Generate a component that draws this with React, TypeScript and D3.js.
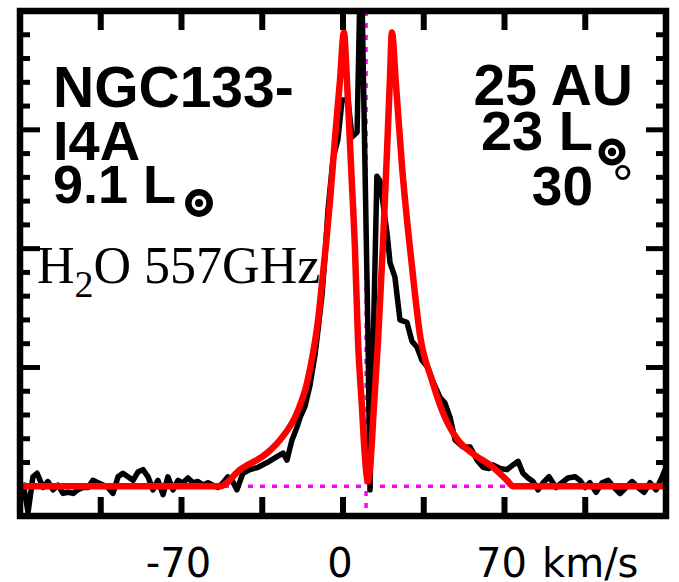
import * as d3 from "d3";

// observed H2O 557 GHz spectrum (km/s, K)
const obsVelocity = [
  -138.7, -136.5, -134.4, -132.6, -131.3, -130.0, -127.9, -125.7, -123.5, -121.4,
  -119.2, -117.0, -114.9, -112.7, -110.5, -108.4, -106.2, -104.0, -101.9, -99.7,
  -97.5, -95.4, -93.2, -91.0, -88.9, -86.7, -84.5, -82.4, -80.2, -78.0,
  -75.9, -73.7, -71.5, -69.4, -67.2, -65.0, -62.9, -60.7, -58.5, -56.4,
  -54.2, -52.0, -49.9, -48.1, -46.0, -43.4, -40.3, -36.8, -32.9, -28.6,
  -26.0, -24.3, -22.1, -19.9, -18.6, -16.5, -14.3, -12.1, -10.8, -9.1,
  -7.8, -6.5, -4.3, -2.2, -0.4, 2.2, 3.9, 6.1, 7.8, 10.8,
  11.7, 14.7, 16.0, 19.1, 20.4, 22.5, 24.7, 27.7, 29.9, 32.1,
  34.2, 36.8, 39.0, 42.0, 44.2, 46.4, 48.6, 52.0, 55.1, 58.1,
  60.7, 63.3, 65.0, 68.1, 71.1, 73.7, 75.9, 78.0, 80.2, 82.4,
  84.5, 86.7, 89.3, 92.3, 94.9, 97.5, 100.6, 102.7, 104.9, 107.0,
  109.7, 112.3, 114.9, 117.5, 120.1, 122.7, 125.3, 127.9, 130.5, 133.1,
  135.7, 138.3, 139.6,
];
const obsIntensity = [
  0.03, -0.22, 0.08, 0.11, 0.05, -0.01, 0.04, -0.03, 0.01, -0.06,
  -0.05, -0.06, -0.03, -0.01, -0.01, 0.05, 0.03, 0.01, -0.01, -0.06,
  0.08, 0.11, 0.08, 0.05, 0.12, 0.14, 0.08, -0.03, 0.05, -0.07,
  0.08, -0.03, 0.05, 0.03, 0.07, 0.03, 0.04, 0.01, 0.03, 0.01,
  -0.01, 0.03, 0.08, 0.05, -0.03, 0.11, 0.14, 0.16, 0.2, 0.25,
  0.28, 0.22, 0.39, 0.5, 0.58, 0.67, 0.85, 1.11, 1.32, 1.61,
  1.94, 2.33, 2.76, 2.92, 3.25, 3.25, 2.94, 2.98, 4.6, 1.3,
  -0.03, 2.61, 2.57, 2.13, 1.88, 1.76, 1.4, 1.38, 1.22, 1.17,
  1.06, 1.0, 0.88, 0.75, 0.7, 0.58, 0.39, 0.33, 0.33, 0.22,
  0.16, 0.15, 0.18, 0.15, 0.14, 0.18, 0.21, 0.11, 0.07, 0.04,
  -0.03, 0.03, 0.08, -0.01, 0.03, 0.07, 0.08, 0.05, -0.01, 0.03,
  -0.05, 0.03, 0.05, -0.01, -0.06, -0.01, 0.04, -0.01, -0.05, 0.03,
  -0.03, 0.08, 0.14,
];

// model fit
const modelVelocity = [
  -140, -53.3, -44.6, -32.9, -27.3, -19.9, -15.6, -13.0, -10.8, -9.1,
  -7.4, -5.6, -3.5, -1.3, 0.4, 1.7, 3.5, 5.2, 6.5, 8.2,
  9.5, 10.8, 12.1, 13.4, 15.2, 17.3, 19.1, 20.4, 21.2, 23.0,
  25.6, 29.9, 33.4, 38.6, 43.3, 49.8, 55.9, 65.0, 71.1, 73.7, 140,
];
const modelIntensity = [
  0, 0, 0.14, 0.28, 0.39, 0.62, 0.87, 1.12, 1.4, 1.71,
  2.03, 2.41, 2.92, 3.42, 3.82, 3.42, 2.69, 1.99, 1.23, 0.67,
  0.25, 0.04, 0.25, 0.67, 1.23, 2.03, 2.83, 3.46, 3.82, 3.37,
  2.69, 1.85, 1.27, 0.89, 0.62, 0.39, 0.28, 0.16, 0.05, 0, 0,
];

const vSource = 10;
const xTicks = [-105, -70, -35, 0, 35, 70, 105];
const xLabels = [-70, 0, 70];
const yTicks = [
  0.2, 0.4, 0.6, 0.8, 1, 1.2, 1.4, 1.6, 1.8, 2, 2.2, 2.4, 2.6, 2.8, 3,
  3.2, 3.4, 3.6, 3.8,
];
const yMajor = [1, 2, 3];

const W = 679;
const H = 582;
const left = 20;
const right = 666;
const top = 11;
const bottom = 516;

export default function App() {
  const x = d3.scaleLinear().domain([-140, 140]).range([left, right]);
  const y = d3.scaleLinear().domain([-0.25, 4]).range([bottom, top]);

  const obsPath = d3
    .line<number>()
    .x((_, i) => x(obsVelocity[i]))
    .y((d) => y(d))(obsIntensity);
  const modelPath = d3
    .line<number>()
    .curve(d3.curveMonotoneX)
    .x((_, i) => x(modelVelocity[i]))
    .y((d) => y(d))(modelIntensity);

  const bold = { fontFamily: "'Liberation Sans', Arial, sans-serif", fontWeight: 700 };

  return (
    <svg
      width={W}
      height={H}
      style={{ position: "absolute", left: 0, top: 0, background: "#fff" }}
    >
      <defs>
        <clipPath id="plot">
          <rect x={left} y={top} width={right - left} height={bottom - top} />
        </clipPath>
      </defs>

      <g clipPath="url(#plot)">
        <line
          x1={left}
          x2={right}
          y1={y(0)}
          y2={y(0)}
          stroke="#ff00ff"
          strokeWidth={3.5}
          strokeDasharray="5 7"
        />
        <line
          x1={x(vSource)}
          x2={x(vSource)}
          y1={top}
          y2={bottom}
          stroke="#ff00ff"
          strokeWidth={3.5}
          strokeDasharray="5 7"
        />
        <path
          d={obsPath ?? ""}
          fill="none"
          stroke="#000"
          strokeWidth={5.5}
          strokeLinejoin="round"
        />
        <path
          d={modelPath ?? ""}
          fill="none"
          stroke="#ff0000"
          strokeWidth={6.5}
          strokeLinejoin="round"
        />
      </g>

      {/* ticks */}
      {xTicks.map((t) => (
        <g key={"xt" + t} stroke="#000" strokeWidth={6}>
          <line x1={x(t)} x2={x(t)} y1={top} y2={top + 19} />
          <line x1={x(t)} x2={x(t)} y1={bottom} y2={bottom - 19} />
        </g>
      ))}
      {yTicks.map((t) => {
        const len = yMajor.includes(t) ? 20 : 10;
        return (
          <g key={"yt" + t} stroke="#000" strokeWidth={5}>
            <line x1={left} x2={left + len} y1={y(t)} y2={y(t)} />
            <line x1={right} x2={right - len} y1={y(t)} y2={y(t)} />
          </g>
        );
      })}

      <rect
        x={left}
        y={top}
        width={right - left}
        height={bottom - top}
        fill="none"
        stroke="#000"
        strokeWidth={6.5}
      />

      {/* axis labels */}
      <g fontFamily="'DejaVu Sans', sans-serif" fontSize={40} fill="#000" textAnchor="middle">
        {xLabels.map((t) => (
          <text key={"xl" + t} x={x(t) - 3} y={577}>
            {t === 0 ? "0" : t < 0 ? "-" + Math.abs(t) : String(t)}
          </text>
        ))}
        <text x={542} y={577} textAnchor="start">
          km/s
        </text>
      </g>

      {/* source text */}
      <g {...bold} fill="#000">
        <text x={53} y={107} fontSize={57}>NGC133-</text>
        <text x={53} y={160} fontSize={56}>I4A</text>
        <text x={53} y={203} fontSize={54}>9.1 L</text>
        <text x={633} y={105} fontSize={57} textAnchor="end">25 AU</text>
        <text x={593} y={150} fontSize={56} textAnchor="end">23 L</text>
        <text x={593} y={205} fontSize={55} textAnchor="end">30</text>
      </g>
      <text
        x={612}
        y={203}
        fontSize={54}
        fontFamily="'Liberation Sans', Arial, sans-serif"
        fill="#000"
      >
        °
      </text>

      {/* solar symbols */}
      <circle cx={199} cy={203} r={10.7} fill="none" stroke="#000" strokeWidth={6.5} />
      <circle cx={199} cy={203} r={4} fill="#000" />
      <circle cx={612} cy={152} r={10.3} fill="none" stroke="#000" strokeWidth={6.3} />
      <circle cx={612} cy={152} r={4.2} fill="#000" />

      <text
        x={37}
        y={283}
        fontSize={52}
        fontFamily="'Liberation Serif', 'Times New Roman', serif"
        fill="#000"
      >
        H<tspan fontSize={38} dy={14}>2</tspan>
        <tspan dy={-14}>O 557GHz</tspan>
      </text>
    </svg>
  );
}
